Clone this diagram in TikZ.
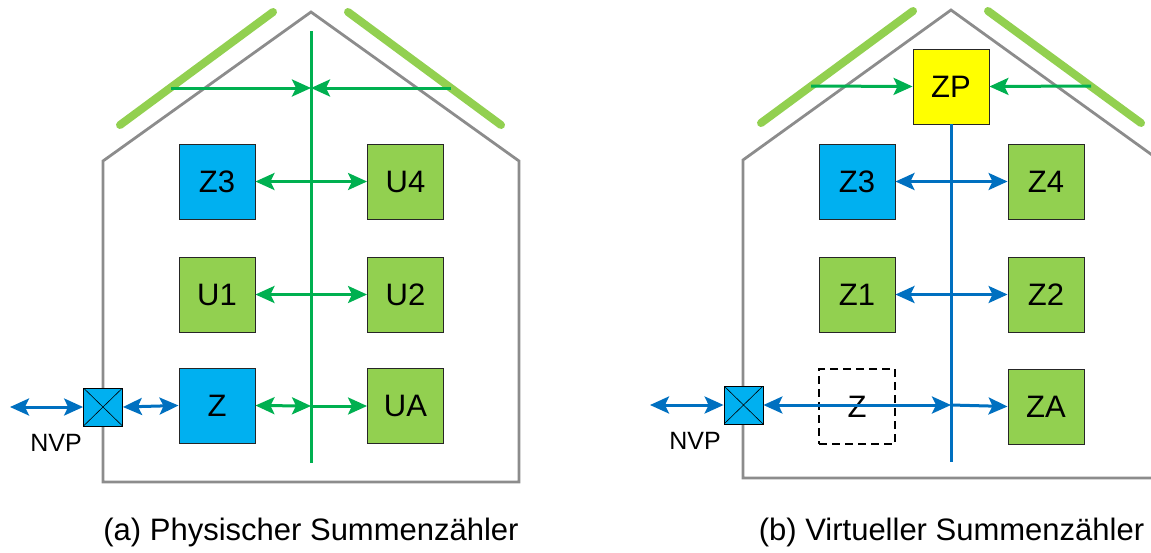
\documentclass[tikz,border=0pt]{standalone}
\usepackage{fontspec}
\setmainfont{Liberation Sans}
\usetikzlibrary{arrows.meta,calc}
\definecolor{boxgreen}{HTML}{92D050}
\definecolor{boxcyan}{HTML}{00B0F0}
\definecolor{boxyellow}{HTML}{FFFF00}
\definecolor{linegreen}{HTML}{00B050}
\definecolor{lineblue}{HTML}{0070C0}
\definecolor{housegray}{HTML}{8C8C8C}
\tikzset{
  box/.style={draw=black!85, line width=0.9pt, minimum width=76pt, minimum height=75pt, inner sep=0pt, font=\fontsize{31}{36}\selectfont},
  gbox/.style={box, fill=boxgreen},
  cbox/.style={box, fill=boxcyan},
  ybox/.style={box, fill=boxyellow},
  dbox/.style={box, draw=black, dashed, dash pattern=on 8pt off 5pt, line width=1.3pt},
  meter/.style={draw=black, line width=0.8pt, fill=boxcyan, minimum width=39pt, minimum height=38pt, inner sep=0pt,
    path picture={\draw[black, line width=0.6pt] (path picture bounding box.north west) -- (path picture bounding box.south east)
      (path picture bounding box.south west) -- (path picture bounding box.north east);}},
  house/.style={draw=housegray, line width=2.8pt},
  panel/.style={draw=boxgreen, line width=8pt, line cap=round},
  arrtip/.style={-{Stealth[length=19pt,width=17pt,inset=4pt]}},
  darrtip/.style={{Stealth[length=19pt,width=17pt,inset=4pt]}-{Stealth[length=19pt,width=17pt,inset=4pt]}},
  gline/.style={draw=linegreen, line width=3pt},
  bline/.style={draw=lineblue, line width=3pt},
  lbl/.style={font=\fontsize{25}{29}\selectfont, inner sep=0pt},
  captxt/.style={font=\fontsize{31}{36}\selectfont, inner sep=0pt}
}
\begin{document}
\begin{tikzpicture}[x=1pt,y=-1pt]
\useasboundingbox (0,0) rectangle (1151,552);
\clip (0,0) rectangle (1151,552);
% ---------- (a) ----------
\draw[house] (103,482) -- (103,161) -- (311,12) -- (519,161) -- (519,482) -- cycle;
\draw[panel] (120,125) -- (273,12);
\draw[panel] (348,12) -- (501,125);
\coordinate (atop) at (311,31);
\coordinate (abot) at (311,463);
\draw[gline] (atop) -- (abot);
\coordinate (apl) at (171,88);
\coordinate (apr) at (451,88);
\coordinate (ajt) at (311,88);
\draw[gline,arrtip] (apl) -- (ajt);
\draw[gline,arrtip] (apr) -- (ajt);
\node[cbox] (aZ3) at (217,181.5) {Z3};
\node[gbox] (aU4) at (405.5,181.5) {U4};
\node[gbox] (aU1) at (217,294.5) {U1};
\node[gbox] (aU2) at (405.5,294.5) {U2};
\node[cbox] (aZ) at (217,405.5) {Z};
\node[gbox] (aUA) at (405.5,406) {UA};
\node[meter] (aM) at (103,407) {};
\coordinate (aout) at (10,407);
\node[lbl] (aNVP) at (56,443) {NVP};
\draw[gline,darrtip] (aZ3.east) -- (aU4.west);
\draw[gline,darrtip] (aU1.east) -- (aU2.west);
\coordinate (ajz) at (311,406);
\draw[gline,darrtip] (aZ.east) -- (ajz);
\draw[gline,arrtip] (ajz) -- (aUA.west);
\draw[bline,darrtip] (aout) -- (aM.west);
\draw[bline,darrtip] (aM.east) -- (aZ.west);
\node[captxt] (acap) at (311,532) {(a) Physischer Summenzähler};
% ---------- (b) ----------
\draw[house] (743,478) -- (743,160) -- (951,10) -- (1159,160) -- (1159,478) -- cycle;
\draw[panel] (761,123) -- (913,11);
\draw[panel] (988,11) -- (1141,123);
\node[ybox] (bZP) at (951,86.5) {ZP};
\coordinate (bbot) at (951,462);
\draw[bline] (bZP.south) -- (bbot);
\coordinate (bpl) at (811,86);
\coordinate (bpr) at (1091,86);
\draw[gline,arrtip] (bpl) -- (bZP.west);
\draw[gline,arrtip] (bpr) -- (bZP.east);
\node[cbox] (bZ3) at (857,181.5) {Z3};
\node[gbox] (bZ4) at (1046,181.5) {Z4};
\node[gbox] (bZ1) at (857,294.5) {Z1};
\node[gbox] (bZ2) at (1046,294.5) {Z2};
\node[dbox] (bZ) at (857,406.5) {Z};
\node[gbox] (bZA) at (1046,406.5) {ZA};
\node[meter] (bM) at (743.5,405) {};
\coordinate (bout) at (650,405);
\node[lbl] (bNVP) at (695,441) {NVP};
\draw[bline,darrtip] (bZ3.east) -- (bZ4.west);
\draw[bline,darrtip] (bZ1.east) -- (bZ2.west);
\coordinate (bjz) at (951,405);
\draw[bline,darrtip] (bM.east) -- (bjz);
\draw[bline,arrtip] (bjz) -- (bZA.west);
\draw[bline,darrtip] (bout) -- (bM.west);
\node[captxt] (bcap) at (951.5,532) {(b) Virtueller Summenzähler};
\end{tikzpicture}
\end{document}
